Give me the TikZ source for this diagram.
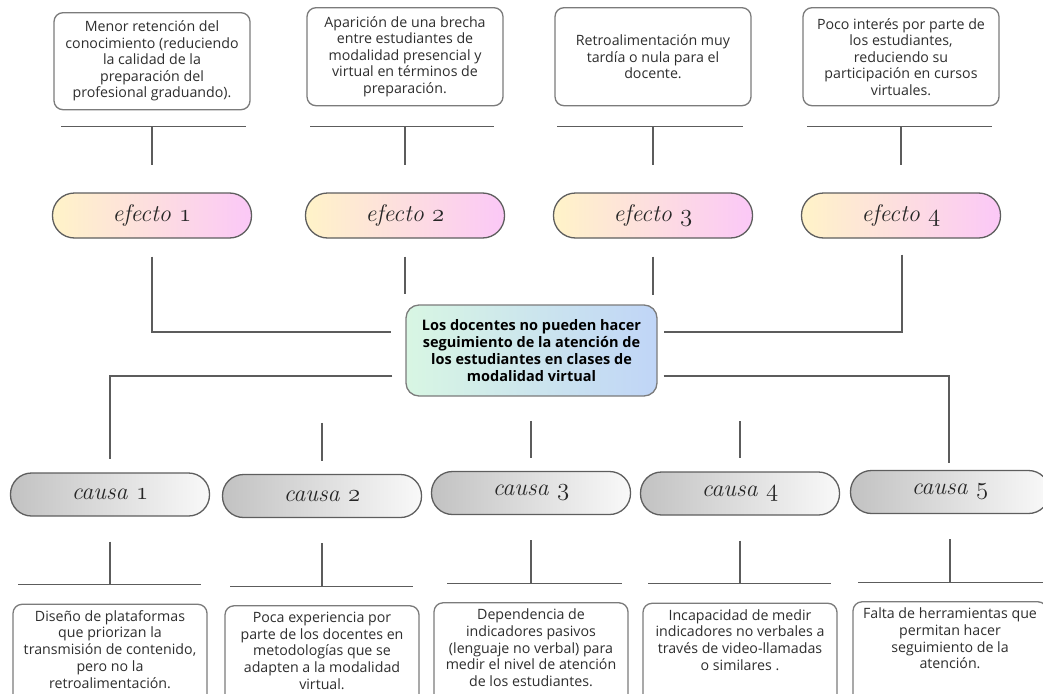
\documentclass[tikz,border=0pt]{standalone}
\usepackage{fontspec}
\newfontfamily\cajafont{Open Sans}
\usetikzlibrary{positioning,calc}
\definecolor{amarilloef}{HTML}{FFF3C8}
\definecolor{rosaef}{HTML}{FBC8F7}
\definecolor{grisca}{HTML}{C2C2C2}
\definecolor{blancoca}{HTML}{F9F9F9}
\definecolor{mentacen}{HTML}{D8F6E3}
\definecolor{azulcen}{HTML}{C0D5F7}
\definecolor{borde}{HTML}{7B7B7B}
\definecolor{bordepil}{HTML}{5E5E5E}
\definecolor{trazo}{HTML}{5C5C5C}
\definecolor{texto}{HTML}{2E2E2E}
% cifras antiguas para las etiquetas
\newcommand{\viejo}[1]{{\usefont{OML}{cmm}{m}{it}#1}}
\newcommand{\abajo}[1]{\begin{minipage}[t][92pt][t]{184pt}\centering #1\end{minipage}}
\tikzset{
  caja/.style={draw=borde, line width=1.3pt, rounded corners=9pt, fill=white, text=texto, font=\cajafont\fontsize{14.2}{16.5}\selectfont, align=center, inner sep=3pt, minimum width=196pt},
  cajab/.style={draw=borde, line width=1.3pt, rounded corners=9pt, fill=white, text=texto, font=\cajafont\fontsize{14.2}{16.8}\selectfont, inner xsep=5pt, inner ysep=6pt},
  efecto/.style={draw=bordepil, line width=1.3pt, rounded corners=22pt, left color=amarilloef, right color=rosaef, minimum width=199pt, minimum height=45pt, font=\itshape\fontsize{24}{26}\selectfont, text=black!85},
  causa/.style={draw=bordepil, line width=1.3pt, rounded corners=21pt, left color=grisca, right color=blancoca, minimum width=199pt, minimum height=43pt, font=\itshape\fontsize{24}{26}\selectfont, text=black!85},
  central/.style={draw=borde, line width=1.3pt, rounded corners=13pt, left color=mentacen, right color=azulcen, minimum width=251pt, minimum height=91pt, font=\cajafont\bfseries\fontsize{14.5}{17}\selectfont, align=center, text=black},
  linea/.style={draw=trazo, line width=1.3pt},
}
\begin{document}
\begin{tikzpicture}[x=1pt, y=-1pt]
\useasboundingbox (0,0) rectangle (1043,693);
\clip (0,0) rectangle (1043,693);
% efectos
\node[efecto] (ef1) at (152,215.5) {efecto \viejo{1}};
\node[efecto] (ef2) at (405,215.5) {efecto \viejo{2}};
\node[efecto] (ef3) at (653,215.5) {efecto \viejo{3}};
\node[efecto] (ef4) at (901,215.5) {efecto \viejo{4}};
\node[caja, minimum height=97pt, above=82pt of ef1] (t1) {Menor retención del\\conocimiento (reduciendo\\la calidad de la\\preparación del\\profesional graduando).};
\node[caja, minimum height=98pt, above=86pt of ef2] (t2) {Aparición de una brecha\\entre estudiantes de\\modalidad presencial y\\virtual en términos de\\preparación.};
\node[caja, minimum height=98pt, above=86pt of ef3] (t3) {Retroalimentación muy\\tardía o nula para el\\docente.};
\node[caja, minimum height=98pt, above=86pt of ef4] (t4) {Poco interés por parte de\\los estudiantes,\\reduciendo su\\participación en cursos\\virtuales.};
% problema central
\node[central] (central) at (531.5,350.5) {Los docentes no pueden hacer\\seguimiento de la atención de\\los estudiantes en clases de\\modalidad virtual};
% causas
\node[causa] (ca1) at (110,494.5) {causa \viejo{1}};
\node[causa] (ca2) at (322,496) {causa \viejo{2}};
\node[causa] (ca3) at (531,493) {causa \viejo{3}};
\node[causa] (ca4) at (740,493.5) {causa \viejo{4}};
\node[causa] (ca5) at (950,492) {causa \viejo{5}};
\node[cajab, below=87pt of ca1] (cb1) {\abajo{Diseño de plataformas\\que priorizan la\\transmisión de contenido,\\pero no la\\retroalimentación.}};
\node[cajab, below=87pt of ca2] (cb2) {\abajo{Poca experiencia por\\parte de los docentes en\\metodologías que se\\adapten a la modalidad\\virtual.}};
\node[cajab, below=87pt of ca3] (cb3) {\abajo{Dependencia de\\indicadores pasivos\\(lenguaje no verbal) para\\medir el nivel de atención\\de los estudiantes.}};
\node[cajab, below=87pt of ca4] (cb4) {\abajo{Incapacidad de medir\\indicadores no verbales a\\través de video-llamadas\\o similares .}};
\node[cajab, below=87pt of ca5] (cb5) {\abajo{Falta de herramientas que\\permitan hacer\\seguimiento de la\\atención.}};
% conectores de efectos
\draw[linea] ($(t1.south)+(-91,16)$) -- ($(t1.south)+(94,16)$); \draw[linea] ($(t1.south)+(0,16)$) -- ($(ef1.north)+(0,-27)$);
\draw[linea] ($(t2.south)+(-95,20)$) -- ($(t2.south)+(89,20)$); \draw[linea] ($(t2.south)+(0,20)$) -- ($(ef2.north)+(0,-27)$);
\draw[linea] ($(t3.south)+(-96,20)$) -- ($(t3.south)+(90,20)$); \draw[linea] ($(t3.south)+(0,20)$) -- ($(ef3.north)+(0,-27)$);
\draw[linea] ($(t4.south)+(-94,20)$) -- ($(t4.south)+(91,20)$); \draw[linea] ($(t4.south)+(0,20)$) -- ($(ef4.north)+(0,-27)$);
\draw[linea] ($(ef1.south)+(0,18)$) |- ($(central.west)+(-14,-18.5)$);
\draw[linea] ($(ef2.south)+(0,18)$) -- ($(ef2.south)+(0,55)$);
\draw[linea] ($(ef3.south)+(0,18)$) -- ($(ef3.south)+(0,56)$);
\draw[linea] ($(ef4.south)+(1,16)$) |- ($(central.east)+(6,-18.5)$);
% conectores de causas
\draw[linea] ($(central.west)+(-13,25.5)$) -| ($(ca1.north)+(0,-13)$);
\draw[linea] ($(central.east)+(6,25.5)$) -| ($(ca5.north)+(-1,-7)$);
\draw[linea] ($(ca2.north)+(0,-51)$) -- ($(ca2.north)+(0,-13)$);
\draw[linea] ($(ca3.north)+(0,-50)$) -- ($(ca3.north)+(0,-13)$);
\draw[linea] ($(ca4.north)+(0,-50)$) -- ($(ca4.north)+(0,-13)$);
\draw[linea] ($(ca1.south)+(0,25)$) -- ($(cb1.north)+(0,-19)$); \draw[linea] ($(cb1.north)+(-92,-19)$) -- ($(cb1.north)+(91,-19)$);
\draw[linea] ($(ca2.south)+(0,25)$) -- ($(cb2.north)+(0,-19)$); \draw[linea] ($(cb2.north)+(-92,-19)$) -- ($(cb2.north)+(91,-19)$);
\draw[linea] ($(ca3.south)+(0,25)$) -- ($(cb3.north)+(0,-19)$); \draw[linea] ($(cb3.north)+(-84,-19)$) -- ($(cb3.north)+(91,-19)$);
\draw[linea] ($(ca4.south)+(0,25)$) -- ($(cb4.north)+(0,-19)$); \draw[linea] ($(cb4.north)+(-92,-19)$) -- ($(cb4.north)+(91,-19)$);
\draw[linea] ($(ca5.south)+(0,25)$) -- ($(cb5.north)+(0,-19)$); \draw[linea] ($(cb5.north)+(-92,-19)$) -- ($(cb5.north)+(95,-19)$);
\end{tikzpicture}
\end{document}
